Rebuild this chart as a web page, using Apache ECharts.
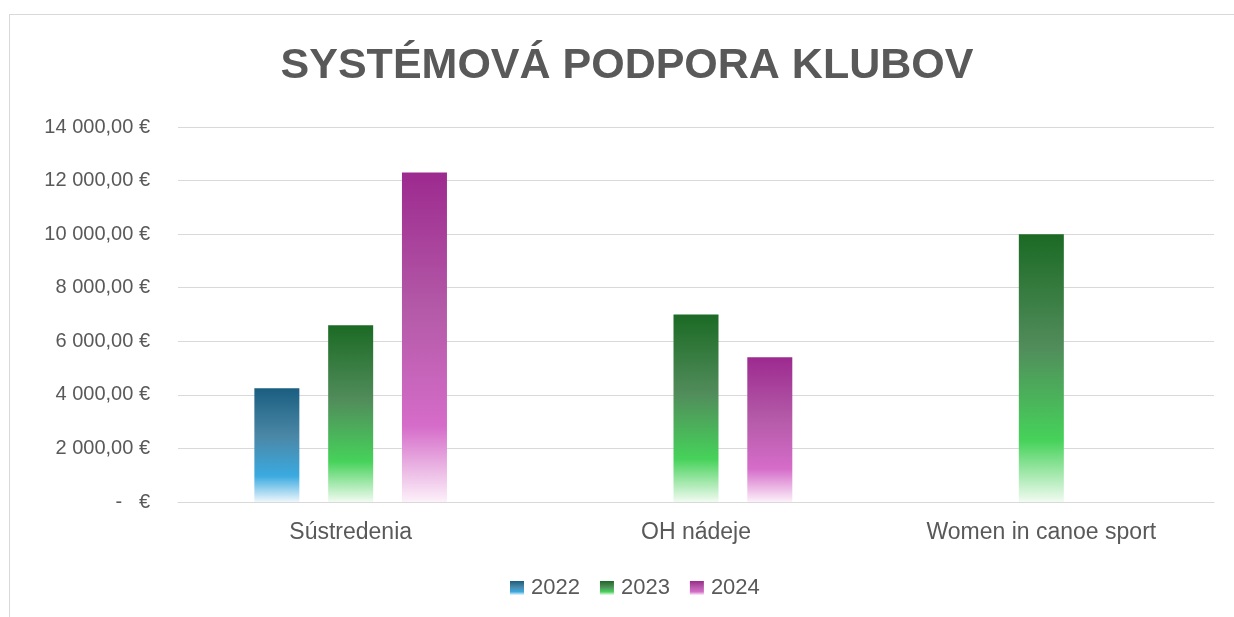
<!DOCTYPE html>
<html>
<head>
<meta charset="utf-8">
<script src="https://cdn.jsdelivr.net/npm/echarts@6/dist/echarts.min.js"></script>
<style>
html, body { margin: 0; padding: 0; background: #fff; }
#frame {
    position: absolute;
    left: 9px;
    top: 14px;
    width: 1300px;
    height: 700px;
    border-left: 1px solid #d9d9d9;
    border-top: 1px solid #d9d9d9;
}
#chart { position: absolute; left: 0; top: 0; width: 1234px; height: 617px; }
</style>
</head>
<body>
<div id="frame"></div>
<div id="chart"></div>
<script>
var categories = ['Sústredenia', 'OH nádeje', 'Women in canoe sport'];
var years = ['2022', '2023', '2024'];
var values2022 = [4250, null, null];
var values2023 = [6600, 7000, 10000];
var values2024 = [12300, 5400, null];
var yTicks = [0, 2000, 4000, 6000, 8000, 10000, 12000, 14000];

function grad(top, mid, bright, bottom) {
    return new echarts.graphic.LinearGradient(0, 0, 0, 1, [
        { offset: 0, color: top },
        { offset: 0.42, color: mid },
        { offset: 0.77, color: bright },
        { offset: 1, color: bottom }
    ]);
}

function euro(v) {
    if (v === 0) return '-   €';
    var s = String(v).replace(/\B(?=(\d{3})+(?!\d))/g, ' ');
    return s + ',00 €';
}

var chart = echarts.init(document.getElementById('chart'));
chart.setOption({
    animation: false,
    title: {
        text: 'SYSTÉMOVÁ PODPORA KLUBOV',
        left: 622,
        top: 40,
        textAlign: 'center',
        textStyle: {
            fontFamily: 'Liberation Sans Narrow, Liberation Sans, sans-serif',
            fontWeight: 'bold',
            fontSize: 43,
            color: '#595959'
        }
    },
    legend: {
        data: years,
        left: 505,
        top: 572,
        icon: 'rect',
        itemWidth: 14,
        itemHeight: 14,
        itemGap: 20,
        textStyle: { fontFamily: 'Liberation Sans', fontSize: 22, color: '#595959', padding: [0, 0, 0, 2] }
    },
    grid: { left: 178, right: 20, top: 127, bottom: 115 },
    xAxis: {
        type: 'category',
        data: categories,
        axisLine: { lineStyle: { color: '#d9d9d9', width: 1 } },
        axisTick: { show: false },
        axisLabel: { margin: 19, fontFamily: 'Liberation Sans', fontSize: 23, color: '#595959' }
    },
    yAxis: {
        type: 'value',
        min: 0,
        max: 14000,
        interval: 2000,
        axisLine: { show: false },
        axisTick: { show: false },
        splitLine: { lineStyle: { color: '#d9d9d9', width: 1 } },
        axisLabel: {
            margin: 28,
            fontFamily: 'Liberation Sans',
            fontSize: 20,
            color: '#595959',
            formatter: function (v) { return yTicks.indexOf(v) >= 0 ? euro(v) : ''; }
        }
    },
    series: [
        {
            name: years[0], type: 'bar', data: values2022,
            barWidth: 45, barGap: '64%',
            itemStyle: { color: grad('#1a5e80', '#4b87a6', '#3aaae0', '#eef6fc') }
        },
        {
            name: years[1], type: 'bar', data: values2023,
            barWidth: 45, barGap: '64%',
            itemStyle: { color: grad('#1b6a24', '#518c5b', '#46d25a', '#f1fbf1') }
        },
        {
            name: years[2], type: 'bar', data: values2024,
            barWidth: 45, barGap: '64%',
            itemStyle: { color: grad('#9d2a8f', '#b45aa8', '#d56cc9', '#fcf1f9') }
        }
    ]
});
</script>
</body>
</html>
